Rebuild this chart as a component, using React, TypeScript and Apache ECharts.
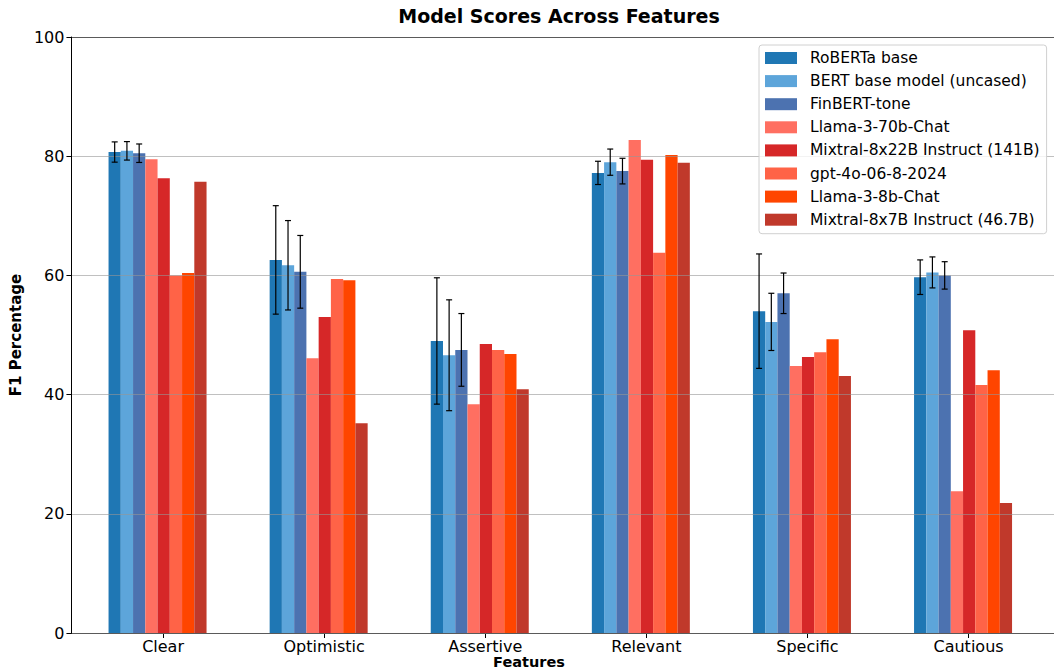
import React, { useEffect, useRef } from "react";
import * as echarts from "echarts";

const categories = ["Clear", "Optimistic", "Assertive", "Relevant", "Specific", "Cautious"];
const modelNames = [
  "RoBERTa base",
  "BERT base model (uncased)",
  "FinBERT-tone",
  "Llama-3-70b-Chat",
  "Mixtral-8x22B Instruct (141B)",
  "gpt-4o-06-8-2024",
  "Llama-3-8b-Chat",
  "Mixtral-8x7B Instruct (46.7B)",
];
const modelColors = ["#1f77b4", "#5da5da", "#4c72b0", "#ff6f61", "#d62728", "#ff6347", "#ff4500", "#c0392b"];

const roberta = [80.7, 62.6, 49.0, 77.2, 54.0, 59.7];
const bert = [80.9, 61.7, 46.6, 79.0, 52.2, 60.5];
const finbert = [80.5, 60.6, 47.5, 77.5, 57.0, 60.0];
const llama70 = [79.5, 46.1, 38.4, 82.7, 44.8, 23.8];
const mixtral22 = [76.3, 53.0, 48.5, 79.4, 46.3, 50.8];
const gpt4o = [60.0, 59.4, 47.5, 63.8, 47.1, 41.6];
const llama8 = [60.4, 59.2, 46.8, 80.2, 49.3, 44.1];
const mixtral7 = [75.7, 35.2, 40.9, 78.9, 43.1, 21.8];

const robertaErr = [1.7, 9.1, 10.6, 1.95, 9.6, 2.9];
const bertErr = [1.55, 7.5, 9.3, 2.2, 4.8, 2.6];
const finbertErr = [1.55, 6.1, 6.1, 2.15, 3.4, 2.3];

const yTicks = { min: 0, max: 100, interval: 20 };

const seriesValues = [roberta, bert, finbert, llama70, mixtral22, gpt4o, llama8, mixtral7];
const errorSets = [robertaErr, bertErr, finbertErr];

const FONT = "DejaVu Sans";
const BAR_W = 12.25;
const N = modelNames.length;

export default function App() {
  const ref = useRef<HTMLDivElement>(null);

  useEffect(() => {
    if (!ref.current) return;
    const chart = echarts.init(ref.current, undefined, { renderer: "svg" });

    const barSeries = modelNames.map((name, i) => ({
      name,
      type: "bar",
      xAxisIndex: 2,
      yAxisIndex: 1,
      data: seriesValues[i],
      barWidth: BAR_W,
      barGap: "0%",
      itemStyle: { color: modelColors[i] },
      z: 2,
    }));

    const errSeries = errorSets.map((errs, i) => ({
      type: "custom",
      xAxisIndex: 2,
      yAxisIndex: 1,
      z: 5,
      silent: true,
      data: categories.map((_, k) => [k, seriesValues[i][k], errs[k]]),
      renderItem: (params: any, api: any) => {
        const idx = api.value(0);
        const v = api.value(1);
        const e = api.value(2);
        const hi = api.coord([idx, v + e]);
        const lo = api.coord([idx, v - e]);
        const x = hi[0] + (i - (N - 1) / 2) * BAR_W;
        const cap = 3;
        const st = { stroke: "#000", lineWidth: 1.2 };
        return {
          type: "group",
          children: [
            { type: "line", shape: { x1: x, y1: hi[1], x2: x, y2: lo[1] }, style: st },
            { type: "line", shape: { x1: x - cap, y1: hi[1], x2: x + cap, y2: hi[1] }, style: st },
            { type: "line", shape: { x1: x - cap, y1: lo[1], x2: x + cap, y2: lo[1] }, style: st },
          ],
        };
      },
    }));

    const option: any = {
      animation: false,
      textStyle: { fontFamily: FONT },
      grid: [
        { left: 64, right: 0, top: 37, bottom: 37 },
        { left: 77, width: 966.6, top: 37, bottom: 37 },
        { left: 82.5, width: 966.6, top: 37, bottom: 37 },
      ],
      graphic: [
        {
          type: "text",
          x: 559,
          y: 16,
          style: {
            text: "Model Scores Across Features",
            font: `bold 19px "${FONT}"`,
            fill: "#000",
            textAlign: "center",
            textVerticalAlign: "middle",
          },
        },
        {
          type: "text",
          x: 529,
          y: 662,
          style: {
            text: "Features",
            font: `bold 14.5px "${FONT}"`,
            fill: "#000",
            textAlign: "center",
            textVerticalAlign: "middle",
          },
        },
      ],
      legend: {
        data: modelNames,
        orient: "vertical",
        left: 759,
        top: 45,
        padding: [4, 7, 5, 6],
        itemWidth: 32,
        itemHeight: 12,
        itemGap: 5.1,
        icon: "rect",
        backgroundColor: "rgba(255,255,255,0.8)",
        borderColor: "#d0d0d0",
        borderWidth: 1,
        borderRadius: 3,
        textStyle: {
          fontFamily: FONT,
          fontSize: 15.5,
          color: "#000",
          lineHeight: 18,
          padding: [0, 0, 0, 8],
        },
      },
      xAxis: [
        {
          type: "value",
          gridIndex: 0,
          position: "bottom",
          min: 0,
          max: 1,
          axisLine: { show: true, lineStyle: { color: "#000", width: 1 } },
          axisTick: { show: false },
          axisLabel: { show: false },
          splitLine: { show: false },
        },
        {
          type: "value",
          gridIndex: 0,
          position: "top",
          min: 0,
          max: 1,
          axisLine: { show: true, lineStyle: { color: "#000", width: 1 } },
          axisTick: { show: false },
          axisLabel: { show: false },
          splitLine: { show: false },
        },
        {
          type: "category",
          gridIndex: 1,
          data: categories,
          axisLine: { show: false },
          axisTick: { show: false },
          axisLabel: { show: false },
          splitLine: { show: false },
        },
        {
          type: "category",
          gridIndex: 2,
          data: categories,
          axisLine: { show: false },
          axisTick: { show: true, alignWithLabel: true, length: 5, lineStyle: { color: "#000" } },
          axisLabel: { show: true, fontSize: 16, color: "#000", fontFamily: FONT, margin: 5 },
          splitLine: { show: false },
        },
      ],
      yAxis: [
        {
          type: "value",
          gridIndex: 0,
          min: yTicks.min,
          max: yTicks.max,
          interval: yTicks.interval,
          z: 3,
          name: "F1 Percentage",
          nameLocation: "middle",
          nameRotate: 90,
          nameGap: 47,
          nameTextStyle: { fontFamily: FONT, fontWeight: "bold", fontSize: 15, color: "#000" },
          axisLine: { show: true, lineStyle: { color: "#000", width: 1 } },
          axisTick: { show: true, length: 5, lineStyle: { color: "#000" } },
          axisLabel: { fontSize: 16, color: "#000", fontFamily: FONT, margin: 7 },
          splitLine: { show: true, lineStyle: { color: "rgba(150,150,150,0.6)", width: 1 } },
        },
        {
          type: "value",
          gridIndex: 1,
          min: yTicks.min,
          max: yTicks.max,
          show: false,
          splitLine: { show: false },
        },
        {
          type: "value",
          gridIndex: 2,
          min: yTicks.min,
          max: yTicks.max,
          show: false,
          splitLine: { show: false },
        },
      ],
      series: [...barSeries, ...errSeries],
    };

    chart.setOption(option);
    return () => chart.dispose();
  }, []);

  return (
    <div
      ref={ref}
      style={{ position: "absolute", left: 0, top: 0, width: 1054, height: 670, background: "#fff" }}
    />
  );
}
